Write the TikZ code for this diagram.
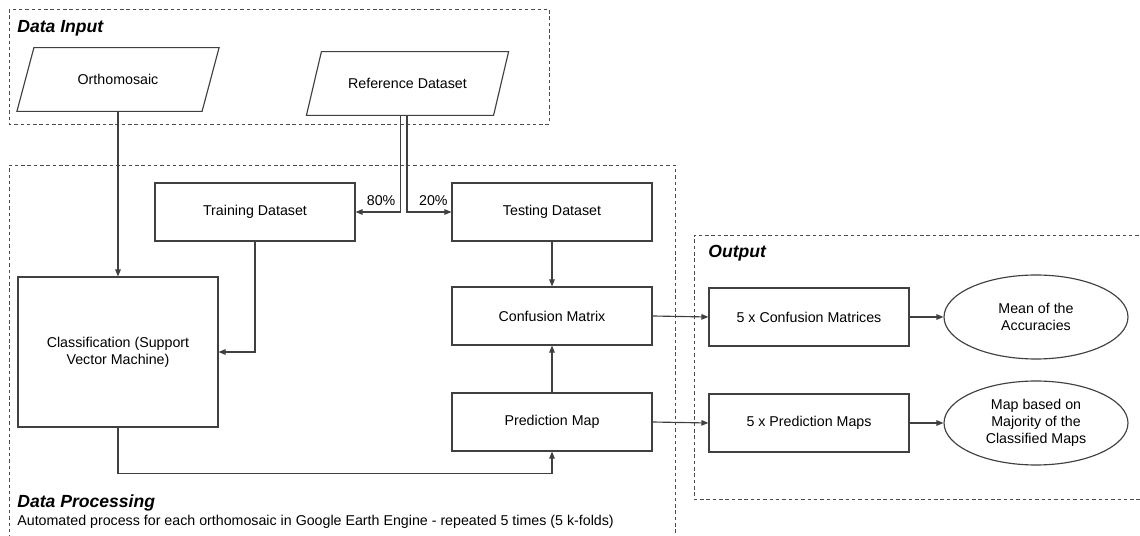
\documentclass[tikz,border=0pt]{standalone}
\usepackage{fontspec}
\setmainfont{Liberation Sans}
\usetikzlibrary{arrows.meta,shapes.geometric}

\begin{document}
\begin{tikzpicture}[x=0.02cm,y=-0.02cm,font=\fontsize{8.1}{9.6}\selectfont,
  line/.style={draw=black!75,line width=.65pt},
  box/.style={line,fill=white,rectangle,minimum width=4cm,minimum height=1.16cm,inner sep=1pt,align=center},
  slantarea/.style={rectangle,minimum width=4.03cm,minimum height=1.26cm,inner sep=1pt},
  oval/.style={line,fill=white,ellipse,minimum width=3.68cm,minimum height=1.68cm,inner sep=0pt,align=center},
  flow/.style={line,-{Triangle[length=1.4mm,width=1.1mm]}},
  frame/.style={draw=black!70,line width=.55pt,dash pattern=on 2pt off 1.6pt},
  heading/.style={font=\bfseries\itshape\fontsize{10}{12}\selectfont,anchor=west,inner sep=0pt},
  note/.style={anchor=west,inner sep=0pt}]
\useasboundingbox (0,0) rectangle (1140,536);
\fill[white] (0,0) rectangle (1140,536);

% DATA INPUT
\draw[frame] (9,9) rectangle (549,124);
\node[heading] (inputtitle) at (17,28) {Data Input};
\node[slantarea] (ortho) at (118,79.5) {Orthomosaic};
\draw[line] (ortho.south west) -- ([xshift=17*0.02cm]ortho.north west) -- (ortho.north east)
  -- ([xshift=-17*0.02cm]ortho.south east) -- cycle;
\node[slantarea] (refdata) at (407.5,83.5) {Reference Dataset};
\draw[line] (refdata.south west) -- ([xshift=15*0.02cm]refdata.north west) -- (refdata.north east)
  -- ([xshift=-15*0.02cm]refdata.south east) -- cycle;

% DATA PROCESSING
\draw[frame] (9,545) -- (9,165) -- (675,165) -- (675,545);
\node[box] (train) at (255,212) {Training Dataset};
\node[box] (test) at (552,212) {Testing Dataset};
\node[box,minimum height=3cm] (classif) at (118,352) {Classification (Support\\Vector Machine)};
\node[box] (confusion) at (552,316) {Confusion Matrix};
\node[box] (predict) at (552,422) {Prediction Map};
\node[heading] (proctitle) at (17,503) {Data Processing};
\node[note] (procnote) at (17,522) {Automated process for each orthomosaic in Google Earth Engine - repeated 5 times (5 k-folds)};

\coordinate (splitL) at ([xshift=-7*0.02cm]refdata.south);
\coordinate (splitR) at ([xshift=-0.5*0.02cm]refdata.south);
\draw[flow] (splitL) |- (train.east);
\draw[flow] (splitR) |- (test.west);
\node[anchor=south east,inner sep=1pt] (eighty) at ([xshift=-3*0.02cm,yshift=4*0.02cm]splitL |- train.east) {80\%};
\node[anchor=south west,inner sep=1pt] (twenty) at ([xshift=10*0.02cm,yshift=4*0.02cm]splitR |- test.west) {20\%};
\draw[flow] (ortho.south) -- (ortho.south |- classif.north);
\draw[flow] (train.south) |- (classif.east);
\draw[flow] (test.south) -- (confusion.north);
\draw[flow] (predict.north) -- (confusion.south);
\draw[flow] (classif.south) -- ++(0,46) -| (predict.south);

% OUTPUT
\draw[frame] (1145,235) -- (694,235) -- (694,499) -- (1145,499);
\node[heading] (outtitle) at (708,253) {Output};
\node[box] (cmfive) at (809,317) {5 x Confusion Matrices};
\node[box] (pmfive) at (809,423) {5 x Prediction Maps};
\node[oval] (mean) at (1036,317) {Mean of the\\Accuracies};
\node[oval] (majority) at (1036,423) {Map based on\\Majority of the\\Classified Maps};
\draw[flow] (confusion.east) -- (cmfive.west);
\draw[flow] (predict.east) -- (pmfive.west);
\draw[flow] (cmfive.east) -- (mean.west);
\draw[flow] (pmfive.east) -- (majority.west);
\end{tikzpicture}
\end{document}
